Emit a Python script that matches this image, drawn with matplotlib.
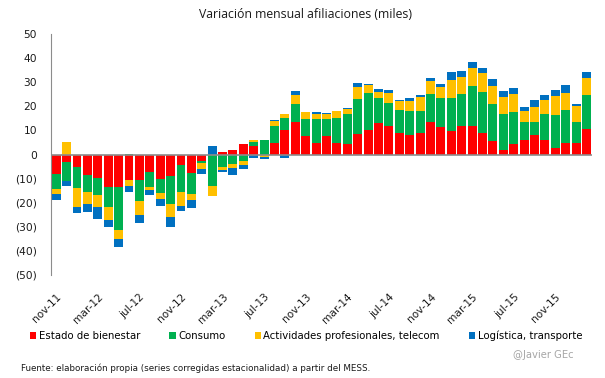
"""
plot.py
monthly change in social security affiliations, stacked by sector group
"""
import numpy as np
import matplotlib
matplotlib.use("Agg")
import matplotlib.pyplot as plt

# months nov-11 .. feb-16
months = ["nov-11", "dic-11", "ene-12", "feb-12", "mar-12", "abr-12", "may-12", "jun-12",
          "jul-12", "ago-12", "sep-12", "oct-12", "nov-12", "dic-12", "ene-13", "feb-13",
          "mar-13", "abr-13", "may-13", "jun-13", "jul-13", "ago-13", "sep-13", "oct-13",
          "nov-13", "dic-13", "ene-14", "feb-14", "mar-14", "abr-14", "may-14", "jun-14",
          "jul-14", "ago-14", "sep-14", "oct-14", "nov-14", "dic-14", "ene-15", "feb-15",
          "mar-15", "abr-15", "may-15", "jun-15", "jul-15", "ago-15", "sep-15", "oct-15",
          "nov-15", "dic-15", "ene-16", "feb-16"]

bienestar = [-8.0, -3.2, -5.1, -8.4, -9.8, -13.6, -13.6, -10.7, -10.7, -7.3, -10.2, -9.0,
             -4.4, -7.7, -2.6, 0.0, 1.0, 1.8, 4.3, 3.5, 0.0, 4.7, 10.1, 13.4,
             7.6, 4.7, 7.6, 4.7, 4.3, 8.4, 10.1, 13.0, 12.0, 8.8, 8.0, 8.8,
             13.4, 11.3, 9.7, 11.8, 11.8, 8.8, 5.5, 1.8, 4.3, 5.9, 8.0, 5.9,
             2.6, 4.7, 4.7, 10.5]
consumo = [-6.4, -7.9, -8.9, -7.2, -7.1, -8.3, -17.8, 0.4, -8.5, -6.3, -5.7, -11.6,
           -11.2, -8.8, -0.8, -13.1, -5.1, -4.0, -2.6, 1.7, 6.0, 7.1, 5.0, 7.5,
           7.1, 10.0, 7.1, 10.4, 12.4, 14.5, 15.4, 10.4, 9.3, 9.5, 10.0, 9.1,
           11.6, 12.0, 13.7, 13.3, 16.6, 17.0, 15.4, 14.9, 13.3, 7.5, 5.4, 10.8,
           13.7, 13.7, 8.7, 14.1]
actividades = [-1.9, 5.2, -7.9, -5.1, -5.0, -5.3, -3.7, -2.4, -6.0, -1.2, -2.4, -5.3,
               -5.8, -2.4, -2.8, -4.0, -1.3, -1.5, -1.8, 0.8, -1.0, 2.1, 1.9, 3.7,
               2.9, 2.1, 2.1, 2.9, 2.1, 5.0, 3.3, 2.5, 4.1, 4.1, 4.1, 5.8,
               5.4, 4.6, 7.5, 7.1, 7.5, 7.9, 7.5, 7.1, 7.5, 4.6, 6.2, 5.8,
               7.9, 7.1, 6.6, 7.1]
logistica = [-2.6, -2.0, -2.4, -3.1, -4.9, -2.8, -3.2, -2.5, -3.2, -1.9, -3.0, -4.1,
             -2.1, -3.2, -1.8, 3.5, -0.7, -2.9, -1.7, -1.4, -0.8, 0.5, -1.4, 1.8,
             -0.4, 0.8, 0.4, 0.0, 0.4, 1.7, 0.4, 1.2, 1.2, 0.4, 1.2, 1.2,
             1.2, 1.2, 3.3, 2.5, 2.5, 2.1, 2.9, 2.5, 2.5, 1.7, 2.9, 2.1,
             2.5, 3.3, 0.8, 2.5]

series = [("Estado de bienestar", bienestar, "#FF0000"),
          ("Consumo", consumo, "#00B050"),
          ("Actividades profesionales, telecom", actividades, "#FFC000"),
          ("Logística, transporte", logistica, "#0070C0")]

fig = plt.figure(figsize=(6.05, 3.78), dpi=100)
ax = fig.add_axes([0.0843, 0.2725, 0.8937, 0.6375])

x = np.arange(len(months))
pos = np.zeros(len(months))
neg = np.zeros(len(months))
for name, vals, col in series:
    v = np.array(vals)
    bottom = np.where(v >= 0, pos, neg)
    ax.bar(x, v, bottom=bottom, width=0.86, color=col, label=name, linewidth=0)
    pos = pos + np.where(v >= 0, v, 0)
    neg = neg + np.where(v < 0, v, 0)

ax.axhline(0, color="#8c8c8c", linewidth=1.2, zorder=3)
ax.set_xlim(-0.5, len(months) - 0.5)
ax.set_ylim(-50, 50)

yt = np.arange(-50, 51, 10)
ax.set_yticks(yt)
ax.set_yticklabels([str(t) if t >= 0 else "(%d)" % -t for t in yt],
                   fontsize=7.7, color="#1a1a1a")
ax.set_xticks(x[::4])
ax.set_xticklabels(months[::4], rotation=45, ha="right", rotation_mode="anchor",
                   fontsize=7.6, color="#1a1a1a")
ax.tick_params(axis="x", length=0, pad=12)
ax.tick_params(axis="y", length=0, pad=10)

for s in ["top", "right", "bottom"]:
    ax.spines[s].set_visible(False)
ax.spines["left"].set_color("#8c8c8c")

fig.text(0.505, 0.962, "Variación mensual afiliaciones (miles)", ha="center", va="center",
         fontsize=8.8, family="Open Sans", color="#1a1a1a")

fig.legend(loc="center", bbox_to_anchor=(0.506, 0.112), ncol=4, frameon=False,
           fontsize=7.3, handlelength=0.6, handleheight=0.6, handletextpad=0.25,
           columnspacing=2.9)

fig.text(0.035, 0.025, "Fuente: elaboración propia (series corregidas estacionalidad) a partir del MESS.",
         fontsize=6.3, color="#1a1a1a", va="center")
fig.text(0.948, 0.062, "@Javier GEc", fontsize=7.2, color="#a6a6a6", ha="right", va="center")

fig.savefig("out.png", dpi=100)
